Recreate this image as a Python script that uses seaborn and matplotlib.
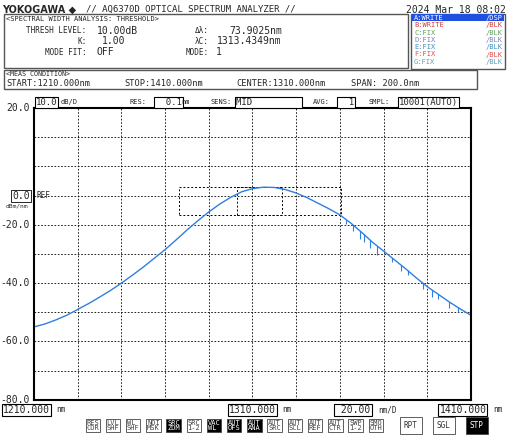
import matplotlib
matplotlib.use("Agg")
import matplotlib.pyplot as plt
import seaborn as sns
import pandas as pd
from matplotlib.patches import Rectangle

# trace (nm, dBm)
wavelength = [1210, 1215, 1220, 1225, 1230, 1235, 1240, 1245, 1250, 1255, 1260, 1265, 1270,
              1275, 1280, 1285, 1290, 1295, 1300, 1305, 1310, 1315, 1320, 1325, 1330, 1335,
              1340, 1345, 1350, 1355, 1360, 1365, 1370, 1375, 1380, 1385, 1390, 1395, 1400,
              1405, 1410]
level = [-55.0, -54.0, -52.6, -51.0, -49.0, -47.0, -44.8, -42.5, -40.0, -37.3, -34.5, -31.5,
         -28.5, -25.2, -21.8, -18.6, -15.6, -12.9, -10.6, -8.7, -7.6, -7.1, -7.2, -7.9, -9.1,
         -10.7, -12.6, -14.5, -16.6, -19.4, -22.6, -26.0, -29.0, -32.0, -35.0, -38.2, -41.2,
         -43.8, -46.4, -48.8, -51.0]
# noise dips on the long-wavelength side (nm, depth dB)
dip_wl = [1353, 1356, 1359, 1361, 1364, 1367, 1374, 1378, 1381, 1388, 1392, 1395, 1400, 1404]
dip_depth = [1.5, 2.0, 3.0, 2.5, 2.5, 3.0, 1.5, 2.0, 1.5, 2.0, 2.5, 1.5, 2.0, 1.5]

df = pd.DataFrame({"wl": wavelength, "dbm": level})
trace = pd.Series(level, index=wavelength)

sns.set_theme(style="white")
plt.rcParams["font.family"] = ["DejaVu Sans Mono", "DejaVu Sans"]

fig = plt.figure(figsize=(5.08, 4.36), dpi=100)
fig.patch.set_facecolor("white")
ax = fig.add_axes([0.067, 0.083, 0.86, 0.669])
sns.lineplot(data=df, x="wl", y="dbm", ax=ax, color="#2f7fe0", linewidth=1.0)
for w, d in zip(dip_wl, dip_depth):
    y0 = float(trace.reindex(sorted(set(wavelength) | {w})).interpolate(method="index")[w])
    ax.vlines(w, y0 - d, y0, color="#2f7fe0", linewidth=0.8)

ax.set_xlim(1210, 1410)
ax.set_ylim(-80, 20)
ax.set_xticks(range(1210, 1411, 20))
ax.set_yticks(range(-80, 21, 10))
ax.grid(True, color="black", linestyle=(0, (2, 2)), linewidth=0.6)
ax.set_xticklabels([])
ax.set_yticklabels([])
ax.tick_params(length=0)
ax.set_xlabel("")
ax.set_ylabel("")
for s in ax.spines.values():
    s.set_color("black")
    s.set_linewidth(1.5)
ax.add_patch(Rectangle((1276.5, -16.7), 74, 9.7, fill=False, ls=(0, (2, 2)), lw=0.7, color="black"))
ax.add_patch(Rectangle((1303, -16.7), 20.5, 9.7, fill=False, ls=(0, (2, 2)), lw=0.7, color="black"))

fs = 7
for yv, lbl in [(20, "20.0"), (-20, "-20.0"), (-40, "-40.0"), (-60, "-60.0"), (-80, "-80.0")]:
    ax.text(-0.01, (yv + 80) / 100, lbl, transform=ax.transAxes, ha="right", va="center", fontsize=fs)
ax.text(-0.01, 0.7, "0.0", transform=ax.transAxes, ha="right", va="center", fontsize=fs,
        bbox=dict(boxstyle="square,pad=0.1", fc="white", ec="black", lw=0.6))
ax.text(0.005, 0.7, "REF", transform=ax.transAxes, ha="left", va="center", fontsize=5.5)
ax.text(-0.065, 0.665, "dBm/nm", transform=ax.transAxes, ha="left", va="center", fontsize=4.5)

box = dict(boxstyle="square,pad=0.1", fc="white", ec="black", lw=0.8)
# header
fig.text(0.005, 0.978, "YOKOGAWA ◆", fontsize=7, fontweight="bold", family="DejaVu Sans", va="center")
fig.text(0.17, 0.978, "// AQ6370D OPTICAL SPECTRUM ANALYZER //", fontsize=6.5, va="center")
fig.text(0.995, 0.978, "2024 Mar 18 08:02", fontsize=7, va="center", ha="right")
fig.patches.append(Rectangle((0.008, 0.845), 0.795, 0.122, transform=fig.transFigure, fill=False, ec="#555", lw=1))
fig.text(0.012, 0.957, "<SPECTRAL WIDTH ANALYSIS: THRESHOLD>", fontsize=5, va="center")
fig.text(0.17, 0.93, "THRESH LEVEL:", fontsize=5.5, va="center", ha="right")
fig.text(0.19, 0.93, "10.00dB", fontsize=7, va="center")
fig.text(0.17, 0.905, "K:", fontsize=5.5, va="center", ha="right")
fig.text(0.2, 0.905, "1.00", fontsize=7, va="center")
fig.text(0.17, 0.88, "MODE FIT:", fontsize=5.5, va="center", ha="right")
fig.text(0.19, 0.88, "OFF", fontsize=7, va="center")
fig.text(0.41, 0.93, "Δλ:", fontsize=5.5, va="center", ha="right")
fig.text(0.41, 0.905, "λC:", fontsize=5.5, va="center", ha="right")
fig.text(0.41, 0.88, "MODE:", fontsize=5.5, va="center", ha="right")
fig.text(0.555, 0.93, "73.9025nm", fontsize=7, va="center", ha="right")
fig.text(0.555, 0.905, "1313.4349nm", fontsize=7, va="center", ha="right")
fig.text(0.425, 0.88, "1", fontsize=7, va="center")

traces = [("A:WRITE", "/DSP", "white"), ("B:WRITE", "/BLK", "#d04040"), ("C:FIX", "/BLK", "#60a060"),
          ("D:FIX", "/BLK", "#8080c0"), ("E:FIX", "/BLK", "#4090c0"), ("F:FIX", "/BLK", "#e05050"),
          ("G:FIX", "/BLK", "#60a0c0")]
fig.patches.append(Rectangle((0.81, 0.842), 0.185, 0.126, transform=fig.transFigure, fc="white", ec="#555", lw=1))
fig.patches.append(Rectangle((0.812, 0.951), 0.181, 0.016, transform=fig.transFigure, fc="#2050e0", ec="none"))
for i, (a, b, c) in enumerate(traces):
    yy = 0.959 - i * 0.0168
    fig.text(0.815, yy, a, fontsize=5, color=c, va="center")
    fig.text(0.99, yy, b, fontsize=5, color=c, va="center", ha="right")

fig.patches.append(Rectangle((0.008, 0.795), 0.93, 0.045, transform=fig.transFigure, fill=False, ec="#555", lw=1))
fig.text(0.012, 0.83, "<MEAS CONDITION>", fontsize=4.8, va="center")
fig.text(0.012, 0.808, "START:1210.000nm", fontsize=6.2, va="center")
fig.text(0.245, 0.808, "STOP:1410.000nm", fontsize=6.2, va="center")
fig.text(0.465, 0.808, "CENTER:1310.000nm", fontsize=6.2, va="center")
fig.text(0.69, 0.808, "SPAN: 200.0nm", fontsize=6.2, va="center")

fig.text(0.07, 0.765, "10.0", fontsize=6.5, va="center", bbox=box)
fig.text(0.12, 0.765, "dB/D", fontsize=5, va="center")
fig.text(0.255, 0.765, "RES:", fontsize=5, va="center")
fig.text(0.305, 0.765, "  0.1", fontsize=6.5, va="center", bbox=box)
fig.text(0.358, 0.765, "nm", fontsize=5, va="center")
fig.text(0.415, 0.765, "SENS:", fontsize=5, va="center")
fig.text(0.465, 0.765, "MID         ", fontsize=6.5, va="center", bbox=box)
fig.text(0.615, 0.765, "AVG:", fontsize=5, va="center")
fig.text(0.665, 0.765, "  1", fontsize=6.5, va="center", bbox=box)
fig.text(0.725, 0.765, "SMPL:", fontsize=5, va="center")
fig.text(0.785, 0.765, "10001(AUTO)", fontsize=6.5, va="center", bbox=box)

# bottom labels
fig.text(0.005, 0.06, "1210.000", fontsize=7, va="center", bbox=box)
fig.text(0.11, 0.06, "nm", fontsize=5.5, va="center")
fig.text(0.45, 0.06, "1310.000", fontsize=7, va="center", bbox=box)
fig.text(0.555, 0.06, "nm", fontsize=5.5, va="center")
fig.text(0.66, 0.06, " 20.00", fontsize=7, va="center", bbox=box)
fig.text(0.745, 0.06, "nm/D", fontsize=5.5, va="center")
fig.text(0.865, 0.06, "1410.000", fontsize=7, va="center", bbox=box)
fig.text(0.97, 0.06, "nm", fontsize=5.5, va="center")

buttons = [("RES\nCOR", 0), ("LVL\nSHF", 0), ("WL\nSHF", 0), ("NOI\nMSK", 0), ("SRC\nZOM", 1), ("SRC\n1-2", 0),
           ("VAC\nWL", 1), ("AUT\nOFS", 1), ("AUT\nANA", 1), ("AUT\nSRC", 0), ("AUT\nSCL", 0), ("AUT\nREF", 0),
           ("AUT\nCTR", 0), ("SWP\n1-2", 0), ("SMO\nOTH", 0)]
for i, (t, on) in enumerate(buttons):
    fig.text(0.17 + i * 0.0398, 0.024, t, fontsize=5, va="center", linespacing=0.85,
             color="white" if on else "#444",
             bbox=dict(boxstyle="square,pad=0.12", fc="black" if on else "white", ec="#444", lw=0.6))
for i, (t, on) in enumerate([("RPT", 0), ("SGL", 0), ("STP", 1)]):
    fig.text(0.795 + i * 0.065, 0.024, t, fontsize=5.5, va="center", color="white" if on else "#333",
             bbox=dict(boxstyle="square,pad=0.55", fc="black" if on else "white", ec="#444", lw=0.6))

fig.savefig("out.png", dpi=100)
